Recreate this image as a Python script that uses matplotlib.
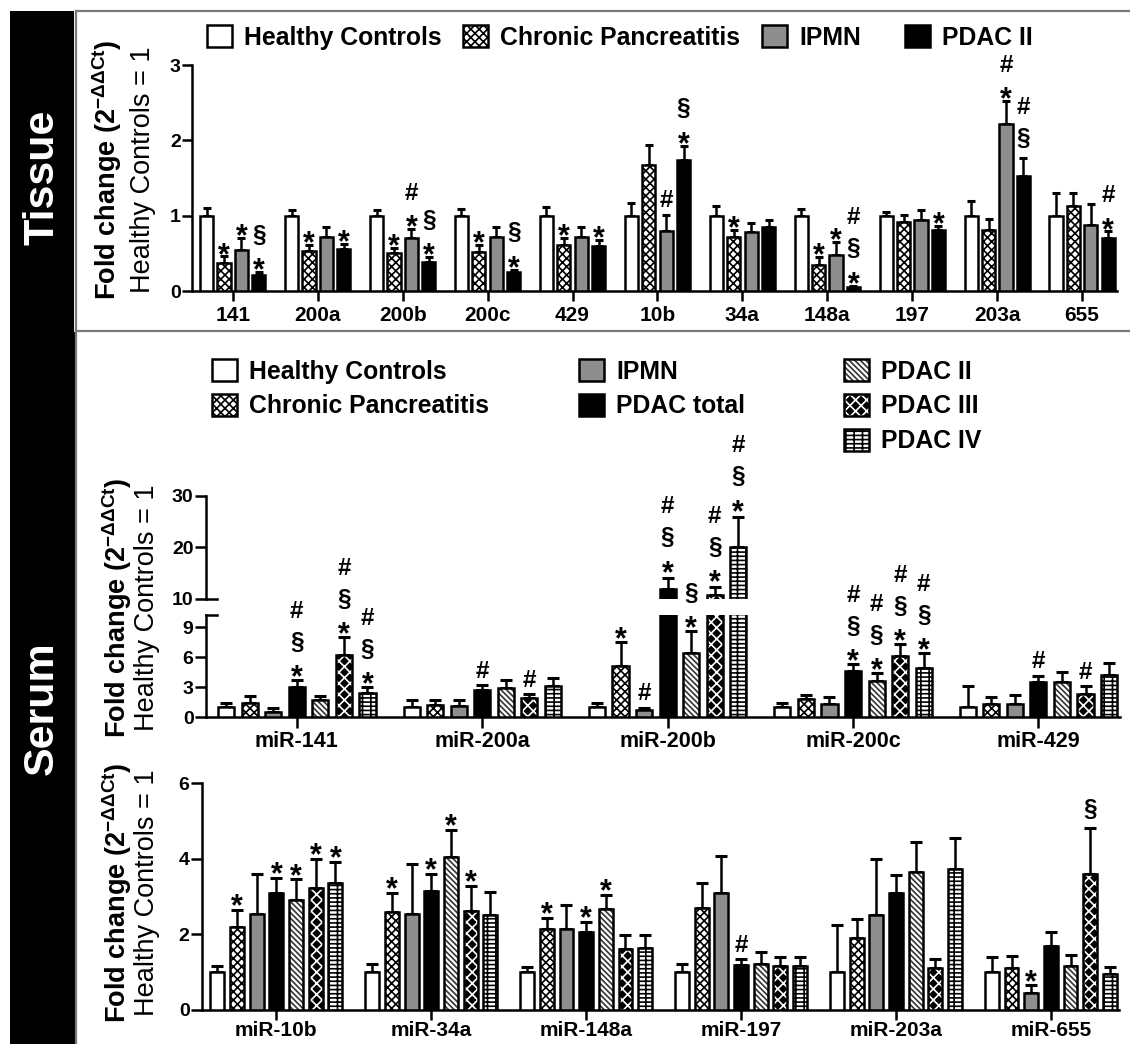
import numpy as np
import matplotlib
matplotlib.use('Agg')
import matplotlib.pyplot as plt
from matplotlib.lines import Line2D
from matplotlib.patches import Rectangle
from matplotlib.legend_handler import HandlerTuple

plt.rcParams['font.family'] = ['Liberation Sans', 'DejaVu Sans']
plt.rcParams['font.weight'] = 'bold'
plt.rcParams['mathtext.fontset'] = 'custom'
plt.rcParams['mathtext.rm'] = 'Liberation Sans'
plt.rcParams['mathtext.bf'] = 'Liberation Sans:bold'
plt.rcParams['hatch.linewidth'] = 1.2

# ---------------- data ----------------
tissue_mirs = ['141', '200a', '200b', '200c', '429', '10b', '34a', '148a', '197', '203a', '655']
tissue_groups = ['Healthy Controls', 'Chronic Pancreatitis', 'IPMN', 'PDAC II']
tissue_hc = [1.0, 1.0, 1.0, 1.0, 1.0, 1.0, 1.0, 1.0, 1.0, 1.0, 1.0]
tissue_hc_err = [0.10, 0.08, 0.08, 0.09, 0.11, 0.17, 0.13, 0.09, 0.05, 0.20, 0.30]
tissue_cp = [0.37, 0.53, 0.50, 0.52, 0.61, 1.67, 0.72, 0.35, 0.92, 0.81, 1.13]
tissue_cp_err = [0.09, 0.08, 0.07, 0.09, 0.10, 0.27, 0.09, 0.10, 0.09, 0.14, 0.17]
tissue_ipmn = [0.54, 0.72, 0.71, 0.72, 0.72, 0.80, 0.78, 0.48, 0.94, 2.22, 0.87]
tissue_ipmn_err = [0.16, 0.13, 0.11, 0.13, 0.13, 0.21, 0.12, 0.17, 0.13, 0.30, 0.29]
tissue_pdac = [0.21, 0.56, 0.39, 0.25, 0.60, 1.74, 0.85, 0.05, 0.81, 1.53, 0.70]
tissue_pdac_err = [0.04, 0.06, 0.06, 0.03, 0.08, 0.19, 0.09, 0.02, 0.05, 0.24, 0.09]
tissue_sig_cp = ['*', '*', '*', '*', '*', '', '*', '*', '', '', '']
tissue_sig_ipmn = ['*', '', '*#', '', '', '#', '', '*', '', '*#', '']
tissue_sig_pdac = ['*§', '*', '*§', '*§', '*', '*§', '', '*§#', '*', '§#', '*#']

serum_groups = ['Healthy Controls', 'Chronic Pancreatitis', 'IPMN', 'PDAC total',
                'PDAC II', 'PDAC III', 'PDAC IV']

serum1_mirs = ['miR-141', 'miR-200a', 'miR-200b', 'miR-200c', 'miR-429']
s1_hc = [1.0, 1.0, 1.0, 1.0, 1.0]
s1_hc_err = [0.4, 0.7, 0.4, 0.4, 2.1]
s1_cp = [1.4, 1.2, 5.1, 1.8, 1.3]
s1_cp_err = [0.7, 0.5, 2.4, 0.45, 0.7]
s1_ipmn = [0.5, 1.1, 0.7, 1.35, 1.35]
s1_ipmn_err = [0.4, 0.6, 0.25, 0.65, 0.85]
s1_total = [3.0, 2.7, 12.0, 4.6, 3.5]
s1_total_err = [0.7, 0.5, 2.1, 0.7, 0.65]
s1_p2 = [1.75, 2.9, 6.4, 3.6, 3.5]
s1_p2_err = [0.4, 0.8, 2.2, 0.8, 1.0]
s1_p3 = [6.2, 1.9, 10.8, 6.1, 2.35]
s1_p3_err = [1.8, 0.4, 1.5, 1.2, 0.75]
s1_p4 = [2.4, 3.1, 20.1, 4.9, 4.25]
s1_p4_err = [0.6, 0.8, 5.9, 1.5, 1.15]
s1_sig_cp = ['', '', '*', '', '']
s1_sig_ipmn = ['', '', '#', '', '']
s1_sig_total = ['*§#', '#', '*§#', '*§#', '#']
s1_sig_p2 = ['', '', '*§', '*§#', '']
s1_sig_p3 = ['*§#', '#', '*§#', '*§#', '#']
s1_sig_p4 = ['*§#', '', '*§#', '*§#', '']

serum2_mirs = ['miR-10b', 'miR-34a', 'miR-148a', 'miR-197', 'miR-203a', 'miR-655']
s2_hc = [1.0, 1.0, 1.0, 1.0, 1.0, 1.0]
s2_hc_err = [0.15, 0.22, 0.13, 0.22, 1.25, 0.4]
s2_cp = [2.2, 2.6, 2.15, 2.7, 1.9, 1.1]
s2_cp_err = [0.45, 0.5, 0.28, 0.66, 0.5, 0.33]
s2_ipmn = [2.55, 2.55, 2.15, 3.1, 2.5, 0.45]
s2_ipmn_err = [1.05, 1.32, 0.63, 0.96, 1.5, 0.2]
s2_total = [3.1, 3.15, 2.07, 1.18, 3.1, 1.68]
s2_total_err = [0.4, 0.45, 0.25, 0.16, 0.48, 0.38]
s2_p2 = [2.9, 4.05, 2.67, 1.22, 3.65, 1.15]
s2_p2_err = [0.55, 0.7, 0.38, 0.3, 0.78, 0.3]
s2_p3 = [3.22, 2.62, 1.6, 1.15, 1.12, 3.6]
s2_p3_err = [0.77, 0.67, 0.38, 0.25, 0.22, 1.2]
s2_p4 = [3.35, 2.5, 1.63, 1.15, 3.72, 0.95]
s2_p4_err = [0.57, 0.62, 0.36, 0.25, 0.82, 0.18]
s2_sig_cp = ['*', '*', '*', '', '', '']
s2_sig_ipmn = ['', '', '', '', '', '*']
s2_sig_total = ['*', '*', '*', '#', '', '']
s2_sig_p2 = ['*', '*', '*', '', '', '']
s2_sig_p3 = ['*', '*', '', '', '', '§']
s2_sig_p4 = ['*', '', '', '', '', '']

# ---------------- styles ----------------
STY = {
    'Healthy Controls': dict(facecolor='white', hatch=None, hcolor='black'),
    'Chronic Pancreatitis': dict(facecolor='white', hatch='xxxx', hcolor='black'),
    'IPMN': dict(facecolor='#8e8e8e', hatch=None, hcolor='black'),
    'PDAC II_t': dict(facecolor='black', hatch=None, hcolor='black'),
    'PDAC total': dict(facecolor='black', hatch=None, hcolor='black'),
    'PDAC II': dict(facecolor='white', hatch='\\\\\\\\\\\\', hcolor='#333333'),
    'PDAC III': dict(facecolor='black', hatch='xxx', hcolor='white'),
    'PDAC IV': dict(facecolor='white', hatch='----||', hcolor='black'),
}

W, H = 1130, 1044
fig = plt.figure(figsize=(W / 100, H / 100), dpi=100)


def px_axes(left, top, right, bottom):
    return fig.add_axes([left / W, 1 - bottom / H, (right - left) / W, (bottom - top) / H])


EDGE = 1.8
PT = 0.72  # points per pixel


def style_axes(ax, spines=('left', 'bottom')):
    for s in ['top', 'right', 'left', 'bottom']:
        ax.spines[s].set_visible(s in spines)
        ax.spines[s].set_linewidth(EDGE)
    ax.tick_params(axis='both', width=EDGE, length=6, direction='out', color='black')
    ax.patch.set_alpha(0)


SYM_SIZE = {'*': 22, '#': 17.5, '§': 17.5}
SYM_CEN = {'*': 0.57, '#': 0.35, '§': 0.27}     # glyph centre above baseline (em)
SYM_FIRST = {'*': 10, '#': 16, '§': 19}        # first glyph centre above cap (px)
SYM_GAP = {'*': 12, '#': 8, '§': 7}


def place_syms(ax, x, top, s, first_star=10):
    center = first_star if s[0] == '*' else SYM_FIRST[s[0]]
    for i, ch in enumerate(s):
        if i > 0:
            center += 32 + SYM_GAP[ch] - SYM_GAP[s[i - 1]]
        size_px = SYM_SIZE[ch] / PT
        base = center - SYM_CEN[ch] * size_px
        ax.annotate(ch, (x, top), xytext=(0, base * PT), textcoords='offset points',
                    ha='center', va='baseline', fontsize=SYM_SIZE[ch], fontweight='bold',
                    annotation_clip=False, zorder=5)


def draw_group_bars(ax, x, values, errs, sigs, width, pitch, styles, capsize,
                    ytop=None, ymin=None, first_star=10):
    n = len(values)
    handles = []
    for k in range(n):
        xs = x + (k - (n - 1) / 2) * pitch
        st = styles[k]
        if st['hatch'] is not None:
            b1 = ax.bar(xs, values[k], width=width, facecolor=st['facecolor'],
                        edgecolor=st['hcolor'], linewidth=0, hatch=st['hatch'], zorder=3)
            b2 = ax.bar(xs, values[k], width=width, fill=False, edgecolor='black',
                        linewidth=EDGE, zorder=3.1)
            handles.append((b1[0], b2[0]))
        else:
            b = ax.bar(xs, values[k], width=width, facecolor=st['facecolor'], edgecolor='black',
                       linewidth=EDGE, zorder=3)
            handles.append(b[0])
        ax.errorbar(xs, values[k], yerr=[np.zeros(len(values[k])), errs[k]], fmt='none',
                    ecolor='black', elinewidth=EDGE, capsize=capsize, capthick=2.2, zorder=2)
        if sigs is not None and sigs[k] is not None:
            for xi, v, e, s in zip(xs, values[k], errs[k], sigs[k]):
                if not s:
                    continue
                top = v + e
                if ytop is not None and top > ytop:
                    continue
                if ymin is not None and top < ymin:
                    continue
                place_syms(ax, xi, top, s, first_star)
    return handles


# ---------------- frame ----------------
fig.add_artist(Rectangle((10 / W, 0), 64 / W, 1 - 11 / H, transform=fig.transFigure,
                         facecolor='black', edgecolor='none'))
fig.add_artist(Rectangle((10 / W, 0), 65 / W, 1 - 332 / H, transform=fig.transFigure,
                         facecolor='black', edgecolor='none'))
fig.add_artist(Line2D([76 / W, 1], [1 - 11 / H, 1 - 11 / H], transform=fig.transFigure,
                      color='#7a7a7a', lw=1.6))
fig.add_artist(Line2D([76 / W, 1], [1 - 331 / H, 1 - 331 / H], transform=fig.transFigure,
                      color='#7a7a7a', lw=1.6))
fig.add_artist(Line2D([76 / W, 76 / W], [0, 1 - 11 / H], transform=fig.transFigure,
                      color='#7a7a7a', lw=1.6))
fig.text(42 / W, 1 - 177 / H, 'Tissue', rotation=90, color='white', fontsize=31,
         fontweight='bold', ha='center', va='center')
fig.text(42 / W, 1 - 708 / H, 'Serum', rotation=90, color='white', fontsize=31,
         fontweight='bold', ha='center', va='center')

YLAB = r'Fold change (2$^{\mathbf{-\Delta\Delta Ct}}$)'


def ylabels(xb, xr, yc):
    fig.text(xb / W, 1 - yc / H, YLAB, rotation=90, fontsize=19.5, fontweight='bold',
             ha='center', va='center')
    fig.text(xr / W, 1 - yc / H, 'Healthy Controls = 1', rotation=90, fontsize=19.5,
             fontweight='normal', ha='center', va='center')


HMAP = {tuple: HandlerTuple(ndivide=1, pad=0)}
LEG_FS = 17.8


def legend_at(handles, labels, xbox, ytop, spacing=0.3):
    fig.legend(handles, labels, loc='upper left', bbox_to_anchor=(xbox / W, 1 - ytop / H),
               frameon=False, fontsize=LEG_FS, handlelength=1.0, handleheight=1.0,
               handletextpad=0.5, borderpad=0, borderaxespad=0, labelspacing=spacing,
               handler_map=HMAP)


# ---------------- tissue panel ----------------
axT = px_axes(192, 65, 1117, 291)
style_axes(axT)
xt = np.arange(len(tissue_mirs))
tissue_styles = [STY['Healthy Controls'], STY['Chronic Pancreatitis'], STY['IPMN'], STY['PDAC II_t']]
hT = draw_group_bars(axT, xt,
                     [np.array(tissue_hc), np.array(tissue_cp), np.array(tissue_ipmn), np.array(tissue_pdac)],
                     [np.array(tissue_hc_err), np.array(tissue_cp_err), np.array(tissue_ipmn_err),
                      np.array(tissue_pdac_err)],
                     [None, tissue_sig_cp, tissue_sig_ipmn, tissue_sig_pdac],
                     width=0.155, pitch=0.205, styles=tissue_styles, capsize=3.2)
axT.set_xlim(-0.48, len(tissue_mirs) - 1 + 0.41)
axT.set_ylim(0, 3)
axT.set_yticks([0, 1, 2, 3])
axT.set_xticks(xt)
axT.set_xticklabels(tissue_mirs, fontsize=15)
axT.tick_params(axis='y', labelsize=14, pad=1, length=7)
axT.tick_params(axis='x', pad=4, length=7)
ylabels(107, 143, 170)
for h, lab, xb in zip(hT, tissue_groups, [207, 463, 762, 905]):
    legend_at([h], [lab], xb, 25)

# ---------------- serum panel 1 (broken axis) ----------------
serum_styles = [STY[g] for g in serum_groups]
vals1 = [np.array(v) for v in [s1_hc, s1_cp, s1_ipmn, s1_total, s1_p2, s1_p3, s1_p4]]
errs1 = [np.array(v) for v in [s1_hc_err, s1_cp_err, s1_ipmn_err, s1_total_err, s1_p2_err,
                               s1_p3_err, s1_p4_err]]
sigs1 = [None, s1_sig_cp, s1_sig_ipmn, s1_sig_total, s1_sig_p2, s1_sig_p3, s1_sig_p4]
x1 = np.arange(len(serum1_mirs))
LOW_TOP = 10.2

axL = px_axes(206, 615, 1120, 717)
style_axes(axL)
hS = draw_group_bars(axL, x1, vals1, errs1, sigs1, width=0.087, pitch=0.127,
                     styles=serum_styles, capsize=4.3, ytop=LOW_TOP, first_star=11)
axL.set_ylim(0, LOW_TOP)
axL.set_yticks([0, 3, 6, 9])
axL.set_xlim(-0.49, len(serum1_mirs) - 1 + 0.44)
axL.set_xticks(x1)
axL.set_xticklabels(serum1_mirs, fontsize=15.5)
axL.tick_params(axis='y', labelsize=14, pad=1, length=8)
axL.tick_params(axis='x', pad=2, length=8)
axL.plot([0, 0.012], [1, 1], transform=axL.transAxes, color='black', lw=EDGE, clip_on=False)

axU = px_axes(206, 496, 1120, 599)
style_axes(axU, spines=('left',))
draw_group_bars(axU, x1, vals1, errs1, sigs1, width=0.087, pitch=0.127,
                styles=serum_styles, capsize=4.3, ymin=LOW_TOP, first_star=13)
axU.set_ylim(10, 30)
axU.set_yticks([10, 20, 30])
axU.set_xlim(axL.get_xlim())
axU.set_xticks([])
axU.tick_params(axis='y', labelsize=14, pad=1, length=8)
axU.plot([0, 0.012], [0, 0], transform=axU.transAxes, color='black', lw=EDGE, clip_on=False)
ylabels(117, 147, 608)

legend_at(hS[0:2], serum_groups[0:2], 212, 359, 0.42)
legend_at(hS[2:4], serum_groups[2:4], 579, 359, 0.42)
legend_at(hS[4:7], serum_groups[4:7], 844, 359, 0.42)

# ---------------- serum panel 2 ----------------
vals2 = [np.array(v) for v in [s2_hc, s2_cp, s2_ipmn, s2_total, s2_p2, s2_p3, s2_p4]]
errs2 = [np.array(v) for v in [s2_hc_err, s2_cp_err, s2_ipmn_err, s2_total_err, s2_p2_err,
                               s2_p3_err, s2_p4_err]]
sigs2 = [None, s2_sig_cp, s2_sig_ipmn, s2_sig_total, s2_sig_p2, s2_sig_p3, s2_sig_p4]
x2 = np.arange(len(serum2_mirs))
axB = px_axes(202, 783, 1119, 1010)
style_axes(axB)
draw_group_bars(axB, x2, vals2, errs2, sigs2, width=0.09, pitch=0.127,
                styles=serum_styles, capsize=4.3, first_star=12)
axB.set_ylim(0, 6)
axB.set_yticks([0, 2, 4, 6])
axB.set_xlim(-0.48, len(serum2_mirs) - 1 + 0.44)
axB.set_xticks(x2)
axB.set_xticklabels(serum2_mirs, fontsize=15)
axB.tick_params(axis='y', labelsize=14, pad=1, length=8)
axB.tick_params(axis='x', pad=1, length=7)
ylabels(117, 147, 893)

fig.savefig('out.png', dpi=100)
